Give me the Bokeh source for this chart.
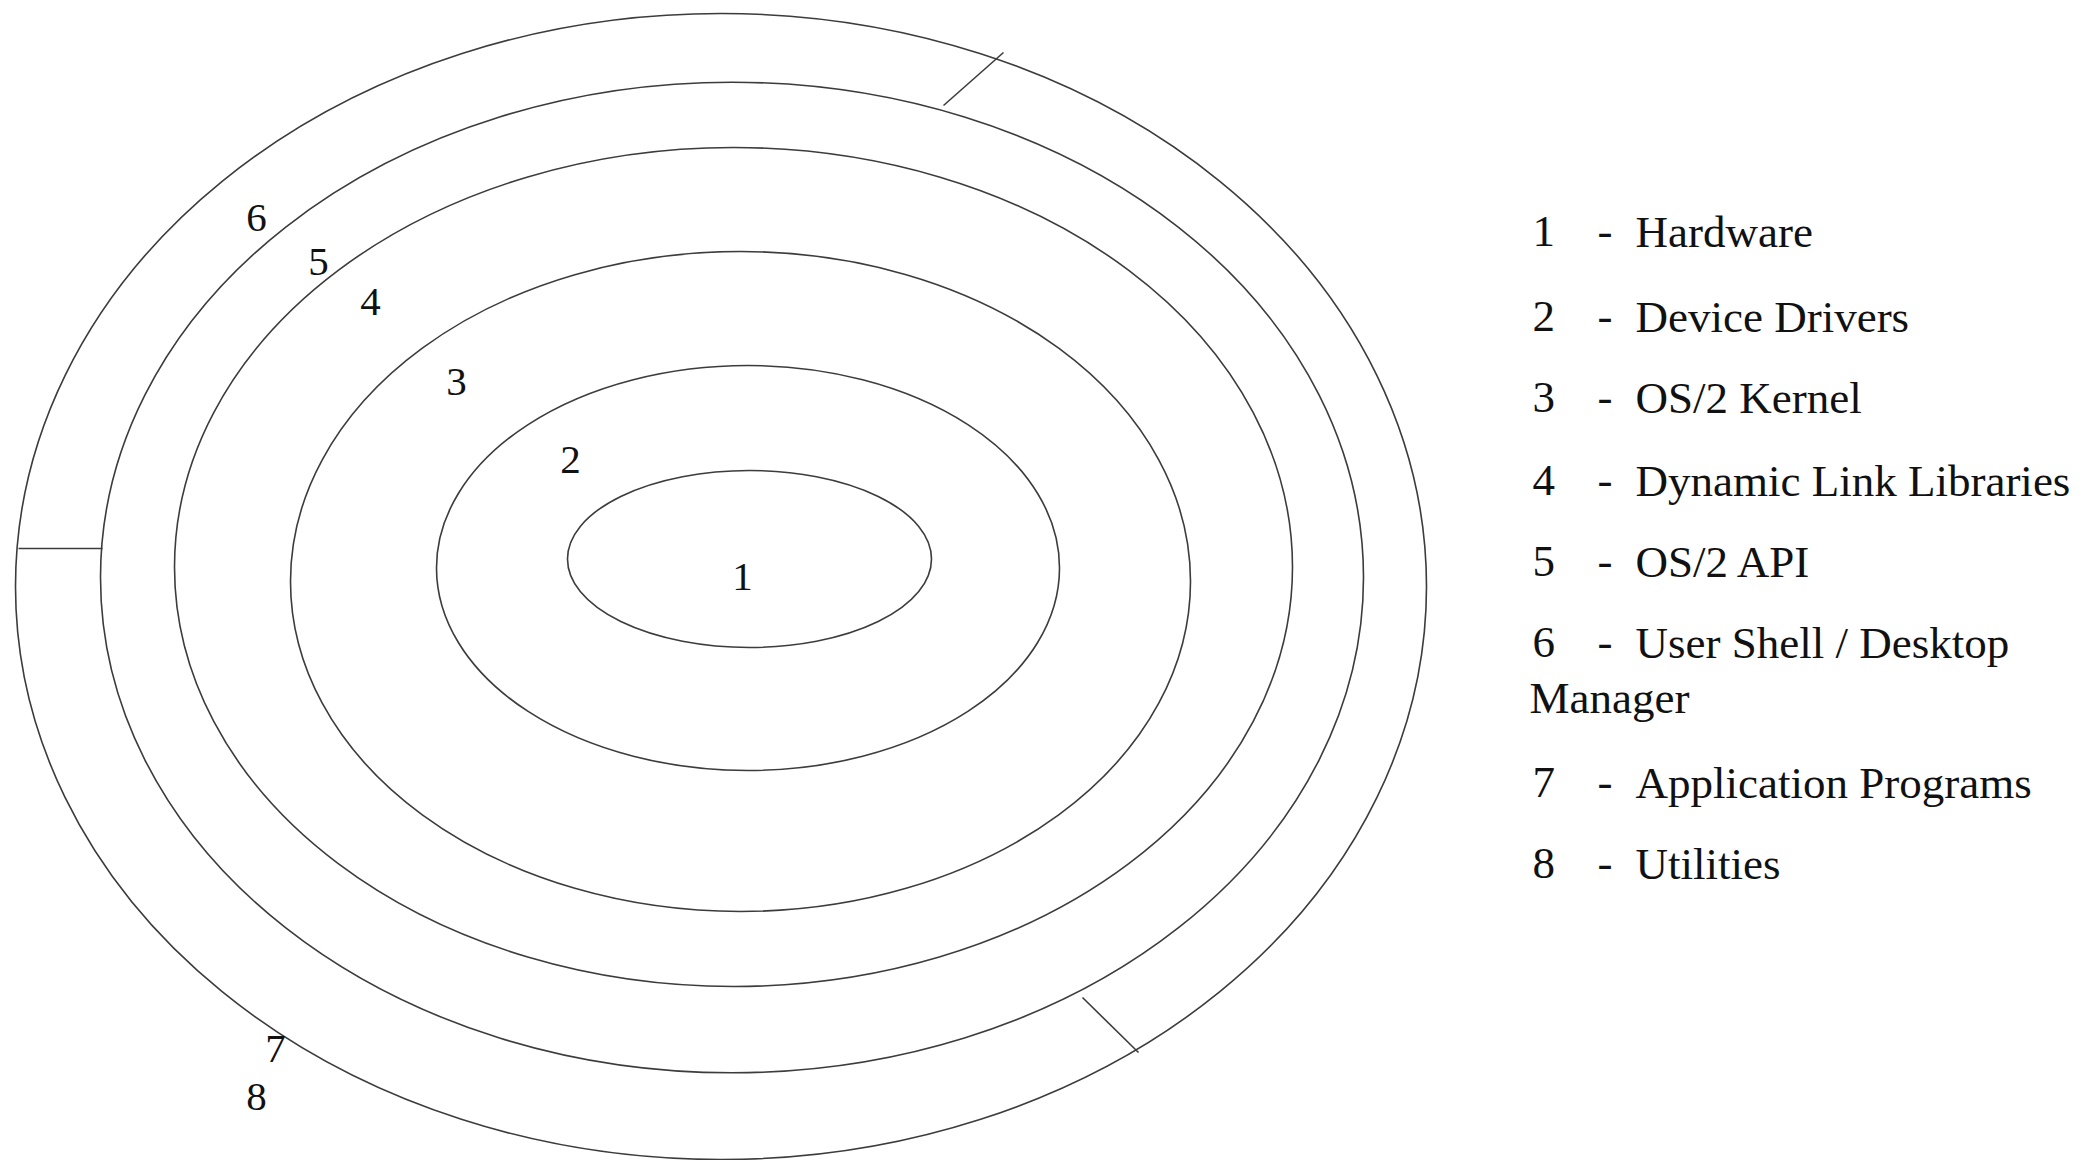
from bokeh.plotting import figure
from bokeh.models import Range1d, ColumnDataSource
from bokeh.core.properties import value
from bokeh.embed import file_html
from bokeh.resources import INLINE

# ---- data ----
layer_ids = ["1", "2", "3", "4", "5", "6", "7", "8"]
layer_names = ["Hardware", "Device Drivers", "OS/2 Kernel", "Dynamic Link Libraries",
               "OS/2 API", "User Shell / Desktop", "Application Programs", "Utilities"]
wrap_line = "Manager"

# ring geometry (image pixels): centre x, centre y, full width, full height
ring_cx = [749, 747.5, 740, 733, 731.5, 720.5]
ring_cy = [558.5, 567.5, 581, 566.5, 577, 586]
ring_w = [364, 623, 900, 1118, 1263, 1411]
ring_h = [177, 405, 660, 839, 990.5, 1146]

# dividers between the outer rings
div_x0 = [943, 1082, 18]
div_y0 = [105, 997, 548]
div_x1 = [1003, 1138, 102]
div_y1 = [52, 1052, 548]

# number labels inside the diagram (baselines)
lab_text = ["6", "5", "4", "3", "2", "1", "7", "8"]
lab_x = [256, 318, 370, 456, 570, 742, 275, 256]
lab_y = [233, 277, 317, 397, 475, 592, 1064, 1112]

# legend rows (baselines)
leg_y = [247, 332, 413, 496, 577, 658, 798, 879]
wrap_y = 713

# ---- figure ----
W, H = 2078, 1160
TEXT_SHIFT = -16  # baseline correction for svg text placement
p = figure(width=W, height=H, output_backend="svg", toolbar_location=None,
           x_range=Range1d(0, W), y_range=Range1d(H, 0),
           min_border=0, outline_line_color=None)
p.axis.visible = False
p.grid.visible = False
p.background_fill_color = "white"
p.border_fill_color = "white"

line_col = "#3c3c3c"
p.ellipse(x=ring_cx, y=ring_cy, width=ring_w, height=ring_h,
          fill_color=None, line_color=line_col, line_width=1.6)
p.segment(x0=div_x0, y0=div_y0, x1=div_x1, y1=div_y1,
          line_color=line_col, line_width=1.6)

font = value("Liberation Serif")
p.text(x=lab_x, y=[v + TEXT_SHIFT for v in lab_y], text=lab_text, text_font=font,
       text_font_size="41px", text_align="center", text_baseline="alphabetic",
       text_color="#111111")

ly = [v + TEXT_SHIFT for v in leg_y]
src = ColumnDataSource(dict(
    num=layer_ids, name=layer_names, y=ly,
    dash=["-"] * len(layer_ids),
    xn=[1532] * len(layer_ids), xd=[1597] * len(layer_ids), xt=[1635] * len(layer_ids)))
for col, xcol in (("num", "xn"), ("dash", "xd"), ("name", "xt")):
    p.text(x=xcol, y="y", text=col, source=src, text_font=font, text_font_size="45px",
           text_align="left", text_baseline="alphabetic", text_color="#111111")
p.text(x=[1529], y=[wrap_y + TEXT_SHIFT], text=[wrap_line], text_font=font,
       text_font_size="45px", text_align="left", text_baseline="alphabetic",
       text_color="#111111")

open("out.html", "w").write(file_html(p, INLINE))
